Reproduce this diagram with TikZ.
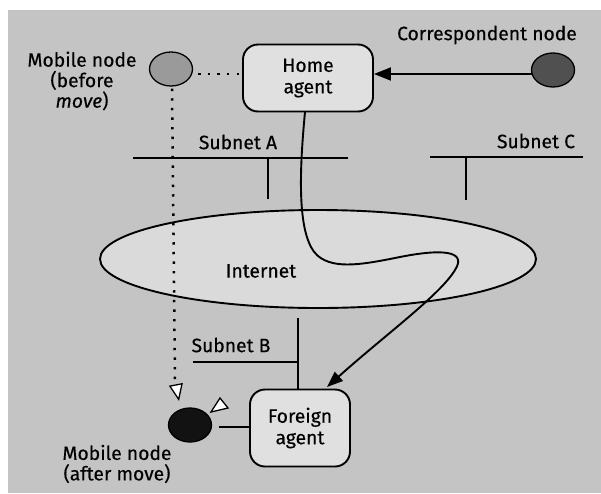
\documentclass[tikz,border=0pt]{standalone}
\usepackage{fontspec}
\setmainfont{Fira Sans}[FakeBold=0.35]
\usetikzlibrary{arrows.meta,shapes.geometric}

\definecolor{paper}{HTML}{C4C4C4}
\definecolor{cloudfill}{HTML}{DADADA}
\definecolor{boxfill}{HTML}{E0E0E0}
\definecolor{hostlight}{HTML}{9A9A9A}
\definecolor{hostmid}{HTML}{505050}
\definecolor{hostdark}{HTML}{121212}

\tikzset{
  txt/.style={font=\fontsize{19.3}{20.5}\selectfont, align=center, inner sep=0pt},
  agentbox/.style={draw, line width=1.9pt, rounded corners=15pt, fill=boxfill,
    align=center, inner sep=0pt, font=\fontsize{19.3}{21.5}\selectfont},
  host/.style={ellipse, draw, line width=1.3pt, minimum width=43pt,
    minimum height=34pt, inner sep=0pt},
  wire/.style={line width=1.9pt},
  dotline/.style={line width=2.5pt, dash pattern=on 2.4pt off 7.2pt},
  openhead/.style={line width=1.3pt, fill=white},
}

\begin{document}
\begin{tikzpicture}[x=1pt,y=-1pt]
  % canvas and grey panel
  \useasboundingbox (0,0) rectangle (601,493);
  \fill[white] (0,0) rectangle (601,493);
  \fill[paper] (8,10) rectangle (601,493);

  % the Internet cloud
  \node[ellipse, draw, line width=1.9pt, fill=cloudfill,
        minimum width=436pt, minimum height=98pt] (net) at (318,259) {};
  \node[txt] (netlbl) at (261,271) {Internet};

  % subnets
  \draw[wire] (133,158) -- (348,158);
  \draw[wire] (268,158) -- (268,199);
  \node[txt] (sublA) at (238,142) {Subnet A};

  \draw[wire] (430,157) -- (583,157);
  \draw[wire] (466,157) -- (466,200);
  \node[txt] (sublC) at (536,141) {Subnet C};

  \draw[wire] (193,362) -- (298,362);
  \node[txt] (sublB) at (231,345) {Subnet B};

  % agents
  \node[agentbox, minimum width=130pt, minimum height=67pt] (HA) at (308,78) {Home\\agent};
  \node[agentbox, minimum width=100pt, minimum height=77pt] (FA) at (300,428) {Foreign\\agent};
  \draw[wire] (298,318) -- (298,318 |- FA.north);

  % hosts
  \node[host, fill=hostlight] (MNb) at (171,69) {};
  \node[host, fill=hostmid] (CN) at (553,70) {};
  \node[host, fill=hostdark] (MNa) at (190,425) {};

  \node[txt] (MNbl) at (82,81) {Mobile node\\(before\\\textit{move})};
  \node[txt] (CNl) at (487,35) {Correspondent node};
  \node[txt] (MNal) at (117,464) {Mobile node\\(after move)};

  % correspondent node to home agent
  \coordinate (cnout) at (533,74);
  \draw[wire, -{Triangle[length=17pt, width=13pt]}] (cnout) -- (HA.east |- cnout);

  % home agent tunnels through the Internet to the foreign agent
  \coordinate (hatop) at (305,112);
  \coordinate (fatip) at (327,387);
  \draw[wire, -{Triangle[length=16pt, width=12pt]}]
    (hatop) .. controls (299,175) and (297,238) .. (318,256)
            .. controls (335,270) and (365,264) .. (400,257)
            .. controls (440,249) and (468,250) .. (455,270)
            .. controls (440,295) and (385,335) .. (fatip);

  % foreign agent to mobile node
  \draw[wire, line width=1.3pt] (MNa.east) ++(7,2) coordinate (mnout) -- (FA.west |- mnout);

  % movement of the mobile node
  \coordinate (moveend) at (179,401);
  \draw[dotline] (MNb.east) ++(5,5) coordinate (dstart) -- (HA.west |- dstart);
  \draw[dotline, -{Triangle[open, length=17pt, width=14pt, line width=1.3pt, fill=white]}]
    (MNb.south) ++(1,2) -- (175,380) -- (moveend);

  % delivery head beside the mobile node
  \draw[openhead] (211,412) -- (220,398) -- (228,408) -- cycle;
\end{tikzpicture}
\end{document}
